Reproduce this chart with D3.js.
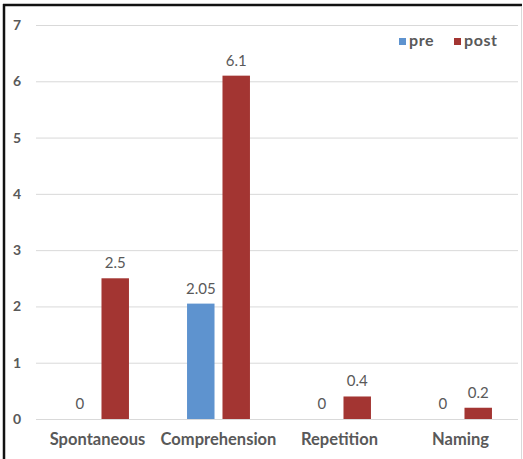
<!DOCTYPE html>
<html><head><meta charset="utf-8">
<script src="https://cdn.jsdelivr.net/npm/d3@7"></script>
<style>body{margin:0;background:#fff}svg{display:block}</style>
</head><body>
<svg id="c" width="523" height="459"></svg>
<script>
const categories = ["Spontaneous", "Comprehension", "Repetition", "Naming"];
const seriesNames = ["pre", "post"];
const preValues = [0, 2.05, 0, 0];
const postValues = [2.5, 6.1, 0.4, 0.2];
const yTicks = [0, 1, 2, 3, 4, 5, 6, 7];
const colors = {pre: "#5e93cf", post: "#a33532"};

const svg = d3.select("#c");
const font = "Lato, 'Open Sans', sans-serif";
const x = d3.scaleBand().domain(categories).range([37, 521]).paddingInner(0.48).paddingOuter(0.24);
const x1 = d3.scaleBand().domain(seriesNames).range([0, x.bandwidth()]).paddingInner(0.225);
const y = d3.scaleLinear().domain([0, 7]).range([419, 25]);

// frame
svg.append("line").attr("x1", 3).attr("x2", 522).attr("y1", 5).attr("y2", 5).attr("stroke", "#111").attr("stroke-width", 2.5);
svg.append("line").attr("x1", 4).attr("x2", 4).attr("y1", 4).attr("y2", 459).attr("stroke", "#111").attr("stroke-width", 2.5);
svg.append("line").attr("x1", 521.5).attr("x2", 521.5).attr("y1", 7).attr("y2", 459).attr("stroke", "#d9d9d9").attr("stroke-width", 1);

// grid
const yAxis = d3.axisLeft(y).tickValues(yTicks).tickSize(-(518 - 36)).tickPadding(18).tickFormat(d3.format("d"));
const ga = svg.append("g").attr("transform", "translate(36,0)").call(yAxis);
ga.select(".domain").remove();
ga.selectAll(".tick line").attr("stroke", "#d9d9d9").attr("stroke-width", 1);
ga.selectAll(".tick text").attr("fill", "#595959").attr("font-family", font).attr("font-weight", "bold").attr("font-size", 14).attr("text-anchor", "start").attr("x", -23);

const data = categories.map((c, i) => ({cat: c, pre: preValues[i], post: postValues[i]}));
const groups = svg.append("g").selectAll("g").data(data).join("g").attr("transform", d => `translate(${x(d.cat)},0)`);
seriesNames.forEach(s => {
  groups.append("rect").attr("x", x1(s)).attr("width", x1.bandwidth())
    .attr("y", d => y(d[s])).attr("height", d => y(0) - y(d[s])).attr("fill", colors[s]);
  groups.append("text").attr("x", x1(s) + x1.bandwidth() / 2).attr("y", d => y(d[s]) - 10)
    .attr("text-anchor", "middle").attr("font-family", font).attr("font-size", 15).attr("fill", "#595959")
    .text(d => d[s]);
});

// x axis labels
const xAxis = d3.axisBottom(x).tickSize(0).tickPadding(14);
const gx = svg.append("g").attr("transform", "translate(0,419)").call(xAxis);
gx.select(".domain").remove();
gx.selectAll(".tick text").attr("fill", "#595959").attr("font-family", font).attr("font-weight", "bold").attr("font-size", 16.5);

// legend
const legendX = [399, 454];
const lg = svg.append("g").selectAll("g").data(seriesNames).join("g").attr("transform", (d, i) => `translate(${legendX[i]},38)`);
lg.append("rect").attr("width", 7).attr("height", 7).attr("fill", d => colors[d]);
lg.append("text").attr("x", 10).attr("y", 8).attr("font-family", font).attr("font-weight", "bold").attr("font-size", 16).attr("letter-spacing", 0.6).attr("fill", "#595959").text(d => d);
</script>
</body></html>
